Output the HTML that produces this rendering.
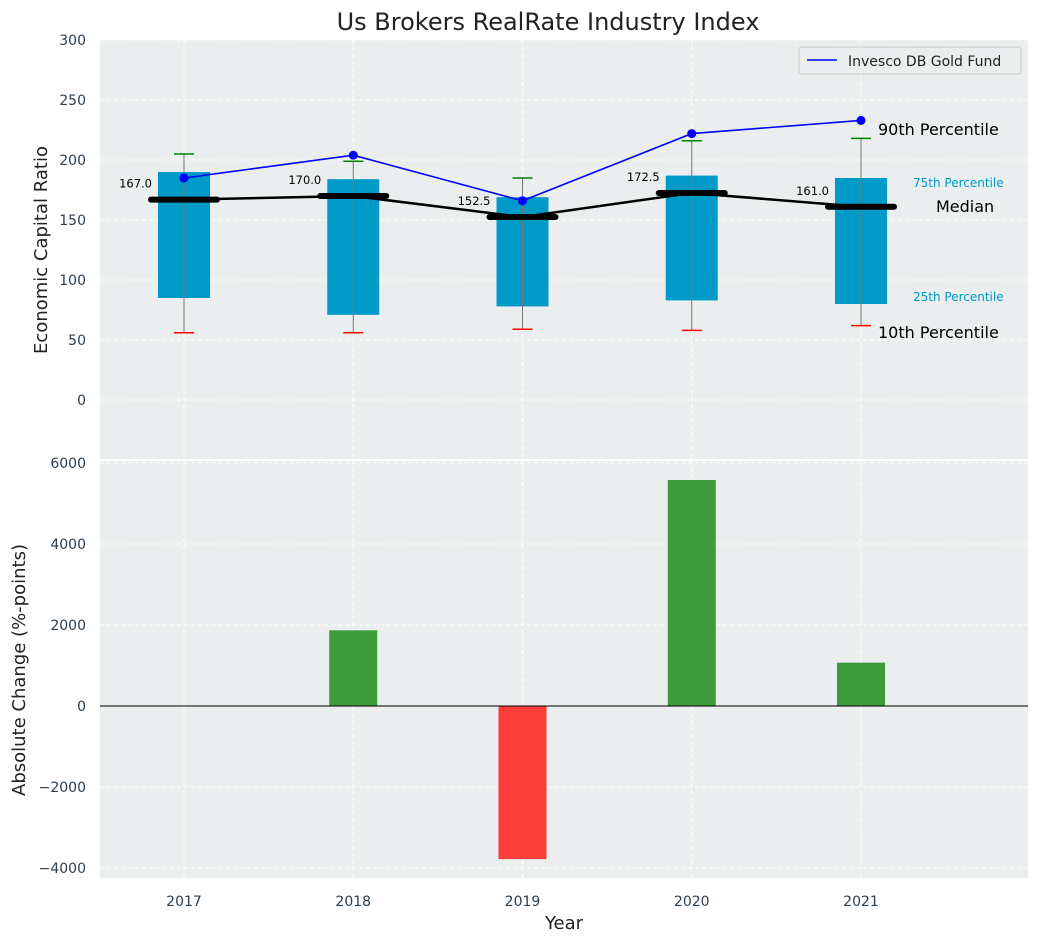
<!DOCTYPE html>
<html><head><meta charset="utf-8"><style>
body{margin:0;background:#fff;font-family:"Liberation Sans","DejaVu Sans",sans-serif}
svg text{font-family:"DejaVu Sans","Liberation Sans",sans-serif}
</style></head><body>
<svg id="chart" width="1039" height="942" xmlns="http://www.w3.org/2000/svg"></svg>
<script>
const years=[2017,2018,2019,2020,2021];
const q75=[190,184,169,187,185];
const q25=[85,71,78,83,80];
const p90=[205,199,185,216,218];
const p10=[56,56,59,58,62];
const medians=[167,170,152.5,172.5,161];
const goldFund=[185,204,166,222,233];
const absChange=[0,1870,-3780,5580,1070];
const topTicks=[0,50,100,150,200,250,300];
const botTicks=[-4000,-2000,0,2000,4000,6000];
const botTickLabels=["\u22124000","\u22122000","0","2000","4000","6000"];

const svg=document.getElementById('chart');
const NS="http://www.w3.org/2000/svg";
function el(t,a,p){const e=document.createElementNS(NS,t);for(const k in a)e.setAttribute(k,a[k]);(p||svg).appendChild(e);return e;}
const L=100,R=1028;
const x=v=>184+(v-2017)*169.25;
const yT=v=>400-v*1.2;
const yB=v=>706-v*0.0405;

// panels
let e=el('rect',{x:L,y:40,width:R-L,height:419,fill:'#eaeeee'});

e=el('rect',{x:L,y:461,width:R-L,height:417,fill:'#eaeeee'});


// grids
topTicks.forEach(t=>{
  el('line',{x1:L,x2:R,y1:yT(t),y2:yT(t),stroke:'#fff','stroke-dasharray':'4,3','stroke-width':1});
  e=el('text',{x:86,y:yT(t)+5,'text-anchor':'end','font-size':14,fill:'#2b3e50'});e.textContent=t;
  
});
botTicks.forEach((t,i)=>{
  el('line',{x1:L,x2:R,y1:yB(t),y2:yB(t),stroke:'#fff','stroke-dasharray':'4,3','stroke-width':1});
  e=el('text',{x:86,y:yB(t)+5,'text-anchor':'end','font-size':14,fill:'#2b3e50'});e.textContent=botTickLabels[i];
  
});
years.forEach(yr=>{
  el('line',{x1:x(yr),x2:x(yr),y1:40,y2:459,stroke:'#fff','stroke-dasharray':'4,3'});
  el('line',{x1:x(yr),x2:x(yr),y1:461,y2:878,stroke:'#fff','stroke-dasharray':'4,3'});
  e=el('text',{x:x(yr),y:906,'text-anchor':'middle','font-size':14,fill:'#2b3e50'});e.textContent=yr;
  
});

// boxes
years.forEach((yr,i)=>{
  const cx=x(yr);
  e=el('rect',{x:cx-26,y:yT(q75[i]),width:52,height:yT(q25[i])-yT(q75[i]),fill:'#009ac9'});
  
  el('line',{x1:cx,x2:cx,y1:yT(p90[i]),y2:yT(p10[i]),stroke:'#777','stroke-width':1});
  e=el('line',{x1:cx-10,x2:cx+10,y1:yT(p90[i]),y2:yT(p90[i]),stroke:'green','stroke-width':1.5});
  
  e=el('line',{x1:cx-10,x2:cx+10,y1:yT(p10[i]),y2:yT(p10[i]),stroke:'red','stroke-width':1.5});
  
});
// median line
e=el('polyline',{points:years.map((yr,i)=>x(yr)+','+yT(medians[i])).join(' '),fill:'none',stroke:'#000','stroke-width':2.5});

years.forEach((yr,i)=>{
  e=el('line',{x1:x(yr)-33,x2:x(yr)+33,y1:yT(medians[i]),y2:yT(medians[i]),stroke:'#000','stroke-width':6,'stroke-linecap':'round'});
  
  e=el('text',{x:x(yr)-32,y:yT(medians[i])-12,'text-anchor':'end','font-size':11.5,fill:'#000'});e.textContent=medians[i].toFixed(1);
  
});
// gold fund
e=el('polyline',{points:years.map((yr,i)=>x(yr)+','+yT(goldFund[i])).join(' '),fill:'none',stroke:'#0000ff','stroke-width':1.6});

years.forEach((yr,i)=>{
  e=el('circle',{cx:x(yr),cy:yT(goldFund[i]),r:4.5,fill:'#0000ff'});
  
});
// annotations
[["90th Percentile",878,135,16,'#000'],["75th Percentile",913,187,12,'#009ac9'],["Median",936,212,16,'#000'],["25th Percentile",913,301,12,'#009ac9'],["10th Percentile",878,338,16,'#000']].forEach(a=>{
  e=el('text',{x:a[1],y:a[2],'font-size':a[3],fill:a[4]});e.textContent=a[0];
  
});
// legend
e=el('g',{});
el('rect',{x:799,y:47,width:222,height:27,fill:'#eaeeee',stroke:'#ccc',rx:3},e);
el('line',{x1:807,x2:837,y1:60,y2:60,stroke:'#0000ff','stroke-width':1.6},e);
let t=el('text',{x:848,y:66,'font-size':14,fill:'#222'},e);t.textContent="Invesco DB Gold Fund";

// bottom bars
years.forEach((yr,i)=>{
  const v=absChange[i];
  e=el('rect',{x:x(yr)-24,y:Math.min(yB(v),yB(0)),width:48,height:Math.abs(yB(v)-yB(0)),fill:v>=0?'#3c9c3c':'#fd3c3c'});
  
});
el('line',{x1:L,x2:R,y1:yB(0),y2:yB(0),stroke:'#000','stroke-width':1});

// titles
e=el('text',{x:548,y:30,'text-anchor':'middle','font-size':24,fill:'#222'});e.textContent="Us Brokers RealRate Industry Index";

e=el('text',{x:47,y:250,'text-anchor':'middle','font-size':18,fill:'#222',transform:'rotate(-90 47 250)'});e.textContent="Economic Capital Ratio";

e=el('text',{x:25,y:670,'text-anchor':'middle','font-size':18,fill:'#222',transform:'rotate(-90 25 670)'});e.textContent="Absolute Change (%-points)";

e=el('text',{x:564,y:929,'text-anchor':'middle','font-size':18,fill:'#222'});e.textContent="Year";

</script>
</body></html>
